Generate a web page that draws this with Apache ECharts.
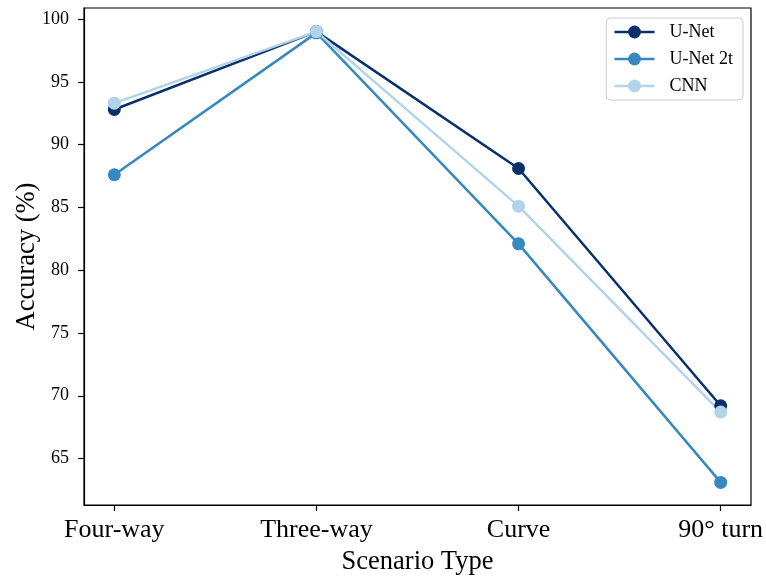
<!DOCTYPE html>
<html>
<head>
<meta charset="utf-8">
<script src="https://cdn.jsdelivr.net/npm/echarts@6/dist/echarts.min.js"></script>
<style>
  html, body { margin: 0; padding: 0; background: #fff; }
  #chart { width: 766px; height: 577px; }
</style>
</head>
<body>
<div id="chart"></div>
<script>
// Scenario categories along the x axis
const scenarios = ['Four-way', 'Three-way', 'Curve', '90\u00b0 turn'];

// Accuracy (%) per scenario for each model
const unet   = [92.8, 99.0, 88.1, 69.2];
const unet2t = [87.6, 98.9, 82.1, 63.1];
const cnn    = [93.3, 99.0, 85.1, 68.7];

// Y tick labels
const yTicks = [65, 70, 75, 80, 85, 90, 95, 100];

const colors = { unet: '#08306b', unet2t: '#3787c0', cnn: '#b3d3e8' };
const FONT = '"Liberation Serif", "Times New Roman", serif';

const toPoints = arr => arr.map((v, i) => [i, v]);

function lineSeries(name, data, color) {
  return {
    name: name,
    type: 'line',
    data: toPoints(data),
    symbol: 'circle',
    symbolSize: 13,
    color: color,
    lineStyle: { color: color, width: 2.5 },
    itemStyle: { color: color },
    emphasis: { disabled: true },
    animation: false
  };
}

const chart = echarts.init(document.getElementById('chart'), null, { renderer: 'canvas' });
chart.setOption({
  backgroundColor: '#ffffff',
  animation: false,
  textStyle: { fontFamily: FONT },
  grid: {
    left: 84, right: 15, top: 8, bottom: 72,
    outerBoundsMode: 'none',
    containLabel: false,
    show: true, borderColor: '#000', borderWidth: 1.2, backgroundColor: 'transparent'
  },
  legend: {
    orient: 'vertical',
    right: 23, top: 18,
    data: ['U-Net', 'U-Net 2t', 'CNN'],
    itemWidth: 40,
    itemHeight: 16,
    itemGap: 9,
    padding: [5, 10, 5, 7],
    borderColor: '#cccccc',
    borderWidth: 1,
    borderRadius: 4,
    backgroundColor: 'rgba(255,255,255,0.8)',
    lineStyle: { width: 2.5 },
    textStyle: { fontFamily: FONT, fontSize: 18, color: '#000', lineHeight: 18, padding: [0, 0, 0, 10] }
  },
  xAxis: {
    type: 'value',
    min: -0.15, max: 3.15,
    name: 'Scenario Type',
    nameLocation: 'middle',
    nameGap: 44,
    nameMoveOverlap: false,
    nameTextStyle: { fontFamily: FONT, fontSize: 26.5, color: '#000' },
    axisLine: { show: true, onZero: false, lineStyle: { color: '#000', width: 1.2 } },
    axisTick: { show: true, inside: false, length: 6, customValues: [0, 1, 2, 3], lineStyle: { color: '#000', width: 1.2 } },
    axisLabel: {
      customValues: [0, 1, 2, 3],
      formatter: v => scenarios[Math.round(v)],
      fontFamily: FONT, fontSize: 26, color: '#000', margin: 12
    },
    splitLine: { show: false }
  },
  yAxis: {
    type: 'value',
    min: 61.3, max: 100.88,
    name: 'Accuracy (%)',
    nameLocation: 'middle',
    nameGap: 43,
    nameMoveOverlap: false,
    nameTextStyle: { fontFamily: FONT, fontSize: 26.5, color: '#000' },
    axisLine: { show: true, onZero: false, lineStyle: { color: '#000', width: 1.2 } },
    axisTick: { show: true, inside: false, length: 6, customValues: yTicks, lineStyle: { color: '#000', width: 1.2 } },
    axisLabel: {
      customValues: yTicks,
      fontFamily: FONT, fontSize: 18, color: '#000', margin: 15
    },
    splitLine: { show: false }
  },
  series: [
    lineSeries('U-Net', unet, colors.unet),
    lineSeries('U-Net 2t', unet2t, colors.unet2t),
    lineSeries('CNN', cnn, colors.cnn)
  ]
});
</script>
</body>
</html>
